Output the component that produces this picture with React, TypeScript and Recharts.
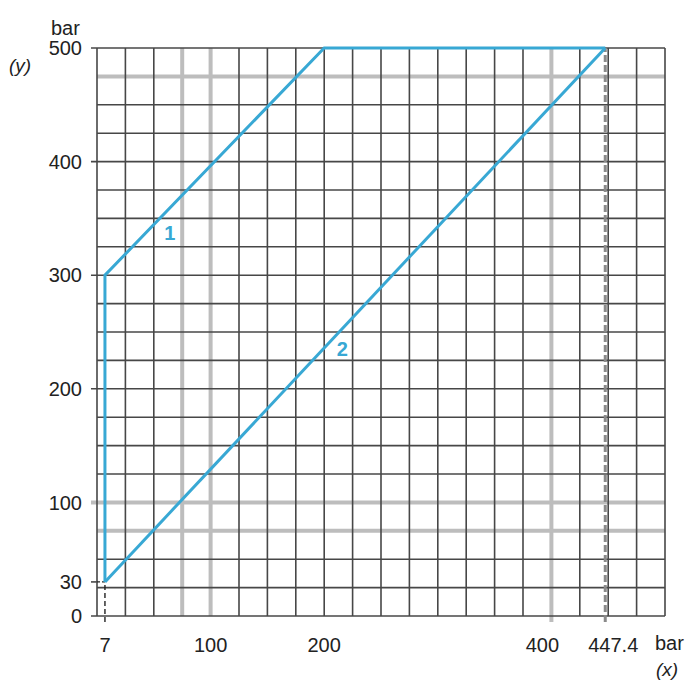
import { LineChart, Line, XAxis, YAxis, ReferenceLine, ReferenceDot } from "recharts";

// grid every 25 bar on both axes; a few lines are drawn in light grey
const gridSteps = [
  0, 25, 50, 75, 100, 125, 150, 175, 200, 225, 250, 275, 300, 325, 350, 375, 400, 425, 450, 475, 500,
];
const greyX = [75, 100, 400];
const greyY = [75, 100, 475];

const xTicks = [7, 100, 200, 400, 447.4];
const yTicks = [0, 30, 100, 200, 300, 400, 500];

// curve 1: x (bar) vs y (bar)
const curve1X = [7, 7, 200, 447.4];
const curve1Y = [30, 300, 500, 500];
// curve 2
const curve2X = [7, 447.4];
const curve2Y = [30, 500];

const curveNames = ["1", "2"];
const curveNameX = [64, 216];
const curveNameY = [337, 235];

const curve1 = curve1X.map((x, i) => ({ x, y: curve1Y[i] }));
const curve2 = curve2X.map((x, i) => ({ x, y: curve2Y[i] }));

const BLUE = "#38a8d4";
const DARK = "#474747";
const GREY = "#bdbdbd";
const TEXT = "#222";
const FONT = "'Liberation Sans', Arial, sans-serif";
const TICK = 5.3; // tick length in bar units (~6px)

function XTick(props: any) {
  const { x, y, payload } = props;
  const v = payload.value;
  const dx = v === 400 ? -9 : v === 447.4 ? 8 : 0;
  return (
    <text x={x + dx} y={y + 34} textAnchor="middle" fill={TEXT} fontSize={20} fontFamily={FONT}>
      {v}
    </text>
  );
}

export default function App() {
  return (
    <div
      style={{
        position: "absolute",
        left: 0,
        top: 0,
        width: 700,
        height: 700,
        background: "#fff",
        fontFamily: FONT,
        color: TEXT,
      }}
    >
      <LineChart width={700} height={700} margin={{ top: 48, right: 35, bottom: 44, left: 0 }}>
        <XAxis
          type="number"
          dataKey="x"
          domain={[0, 500]}
          ticks={xTicks}
          interval={0}
          height={40}
          axisLine={false}
          tickLine={false}
          tickSize={0}
          tick={<XTick />}
        />
        <YAxis
          type="number"
          dataKey="y"
          domain={[0, 500]}
          ticks={yTicks}
          interval={0}
          width={97}
          axisLine={false}
          tickLine={false}
          tickSize={6}
          tickMargin={9}
          tick={{ fill: TEXT, fontSize: 20, fontFamily: FONT }}
        />

        {greyX.map((v) => (
          <ReferenceLine
            key={"gx" + v}
            segment={[
              { x: v, y: v === 400 ? -TICK : 0 },
              { x: v, y: 500 },
            ]}
            stroke={GREY}
            strokeWidth={4}
            ifOverflow="visible"
          />
        ))}
        {greyY.map((v) => (
          <ReferenceLine
            key={"gy" + v}
            segment={[
              { x: yTicks.includes(v) ? -TICK : 0, y: v },
              { x: 500, y: v },
            ]}
            stroke={GREY}
            strokeWidth={4}
            ifOverflow="visible"
          />
        ))}
        {gridSteps
          .filter((v) => !greyX.includes(v))
          .map((v) => (
            <ReferenceLine key={"vx" + v} x={v} stroke={DARK} strokeWidth={1.6} ifOverflow="visible" />
          ))}
        {gridSteps
          .filter((v) => !greyY.includes(v))
          .map((v) => (
            <ReferenceLine
              key={"hy" + v}
              segment={[
                { x: yTicks.includes(v) ? -TICK : 0, y: v },
                { x: 500, y: v },
              ]}
              stroke={DARK}
              strokeWidth={1.6}
              ifOverflow="visible"
            />
          ))}

        <ReferenceLine
          segment={[
            { x: 447.4, y: -TICK },
            { x: 447.4, y: 500 },
          ]}
          stroke="#8a8a8a"
          strokeWidth={3}
          strokeDasharray="7 3"
          ifOverflow="visible"
        />
        <ReferenceLine
          segment={[
            { x: 7, y: -TICK },
            { x: 7, y: 30 },
          ]}
          stroke={TEXT}
          strokeWidth={1.4}
          strokeDasharray="5 3"
          ifOverflow="visible"
        />
        <ReferenceLine
          segment={[
            { x: -TICK, y: 30 },
            { x: 0, y: 30 },
          ]}
          stroke={DARK}
          strokeWidth={1.6}
          ifOverflow="visible"
        />
        <ReferenceLine
          segment={[
            { x: 0, y: 30 },
            { x: 7, y: 30 },
          ]}
          stroke={TEXT}
          strokeWidth={1.4}
          strokeDasharray="3 2"
          ifOverflow="visible"
        />

        <Line
          data={curve1}
          dataKey="y"
          type="linear"
          stroke={BLUE}
          strokeWidth={3}
          dot={false}
          isAnimationActive={false}
        />
        <Line
          data={curve2}
          dataKey="y"
          type="linear"
          stroke={BLUE}
          strokeWidth={3}
          dot={false}
          isAnimationActive={false}
        />

        {curveNames.map((name, i) => (
          <ReferenceDot
            key={name}
            x={curveNameX[i]}
            y={curveNameY[i]}
            r={0}
            stroke="none"
            fill="none"
            label={{
              value: name,
              position: "center",
              fill: BLUE,
              fontSize: 20,
              fontWeight: "bold",
              fontFamily: FONT,
            }}
          />
        ))}
      </LineChart>

      <span style={{ position: "absolute", left: 51, top: 18, fontSize: 20, lineHeight: "20px" }}>bar</span>
      <span
        style={{ position: "absolute", left: 9, top: 56, fontSize: 19, lineHeight: "20px", fontStyle: "italic" }}
      >
        (y)
      </span>
      <span style={{ position: "absolute", left: 655, top: 633, fontSize: 20, lineHeight: "20px" }}>bar</span>
      <span
        style={{ position: "absolute", left: 656, top: 660, fontSize: 19, lineHeight: "20px", fontStyle: "italic" }}
      >
        (x)
      </span>
    </div>
  );
}
